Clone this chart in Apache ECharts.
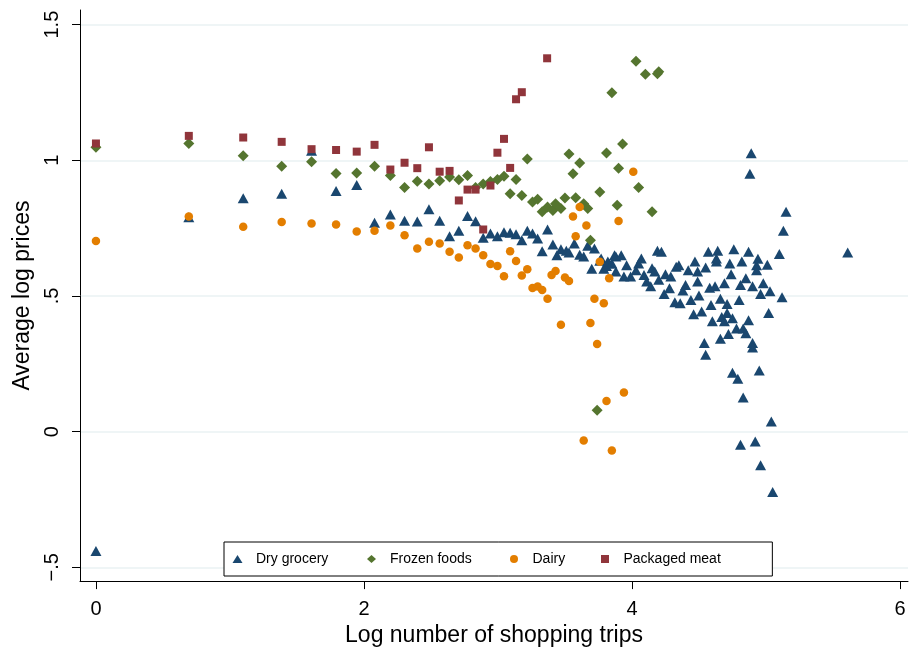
<!DOCTYPE html>
<html><head><meta charset="utf-8">
<script src="https://cdn.jsdelivr.net/npm/echarts@6/dist/echarts.min.js"></script>
<style>html,body{margin:0;padding:0;background:#fff}#c{width:910px;height:652px}</style>
</head><body><div id="c"></div>
<script>
const seriesNames = ['Dry grocery', 'Frozen foods', 'Dairy', 'Packaged meat'];

const dryX = [0,0.693,1.099,1.386,1.609,1.792,1.946,2.079,2.197,2.303,2.398,2.485,2.565,2.639,2.708,2.773,2.833,2.890,2.944,2.996,3.045,3.091,3.135,3.178,3.219,3.258,3.296,3.37,3.33,3.41,3.44,3.47,3.51,3.53,3.57,3.61,3.64,3.67,3.72,3.70,3.76,3.79,3.83,3.88,3.88,3.77,3.81,3.82,3.85,3.87,3.92,3.94,3.96,3.99,4.03,4.05,4.07,4.09,4.11,4.14,4.15,4.17,4.19,4.22,4.20,4.24,4.25,4.28,4.29,4.32,4.33,4.35,4.36,4.38,4.40,4.42,4.44,4.46,4.47,4.49,4.49,4.50,4.52,4.55,4.57,4.58,4.59,4.62,4.63,4.63,4.64,4.66,4.69,4.71,4.73,4.74,4.76,4.80,4.81,4.82,4.85,4.87,4.89,4.88,4.90,4.93,4.93,4.94,4.96,4.98,5.01,5.03,5.02,5.10,5.12,5.13,5.15,5.61,4.54,4.55,4.66,4.72,4.78,4.85,4.90,4.90,4.87,4.83,4.75,4.69,4.67,4.60,4.71,4.75,4.79,4.95,4.83,5.04,4.81,4.92,4.96,5.05];
const dryY = [-0.44,0.79,0.86,0.877,1.035,0.887,0.909,0.77,0.80,0.777,0.774,0.82,0.777,0.72,0.74,0.795,0.775,0.715,0.73,0.72,0.735,0.733,0.727,0.705,0.74,0.73,0.712,0.745,0.665,0.69,0.65,0.672,0.667,0.66,0.693,0.652,0.645,0.685,0.675,0.60,0.63,0.60,0.62,0.645,0.59,0.638,0.61,0.627,0.62,0.65,0.65,0.572,0.613,0.572,0.595,0.62,0.638,0.577,0.553,0.536,0.602,0.59,0.667,0.663,0.56,0.507,0.58,0.528,0.572,0.477,0.608,0.613,0.473,0.52,0.54,0.595,0.485,0.433,0.627,0.59,0.553,0.502,0.443,0.605,0.663,0.53,0.467,0.536,0.627,0.638,0.667,0.49,0.547,0.47,0.62,0.58,0.672,0.485,0.54,0.627,0.565,0.663,1.026,0.95,0.536,0.595,0.613,0.637,0.507,0.547,0.615,0.517,0.437,0.655,0.495,0.74,0.81,0.66,0.327,0.283,0.342,0.36,0.38,0.363,0.327,0.31,0.41,0.38,0.418,0.407,0.422,0.407,0.437,0.217,0.195,0.225,0.126,0.037,-0.048,-0.036,-0.124,-0.223];

const frozenX = [0,0.693,1.099,1.386,1.609,1.792,1.946,2.079,2.197,2.303,2.398,2.485,2.565,2.639,2.708,2.773,2.833,2.890,2.944,2.996,3.045,3.091,3.135,3.178,3.219,3.258,3.296,3.33,3.37,3.41,3.43,3.47,3.50,3.53,3.56,3.58,3.61,3.64,3.67,3.69,3.76,3.81,3.85,3.90,3.89,3.93,4.03,4.10,4.20,4.19,4.05,4.15,3.74];
const frozenY = [1.048,1.062,1.017,0.978,0.995,0.951,0.953,0.978,0.944,0.90,0.923,0.913,0.925,0.938,0.928,0.944,0.90,0.913,0.922,0.929,0.941,0.877,0.929,0.87,1.005,0.846,0.856,0.81,0.828,0.815,0.84,0.822,0.861,1.023,0.95,0.862,0.99,0.84,0.822,0.705,0.883,1.027,1.249,0.971,0.834,1.06,1.365,1.317,1.326,1.319,0.90,0.81,0.079];

const dairyX = [0,0.693,1.099,1.386,1.609,1.792,1.946,2.079,2.197,2.303,2.398,2.485,2.565,2.639,2.708,2.773,2.833,2.890,2.944,2.996,3.045,3.091,3.135,3.178,3.219,3.258,3.296,3.33,3.37,3.40,3.43,3.50,3.53,3.47,3.56,3.61,3.66,3.58,3.76,3.83,3.90,3.72,3.79,3.69,3.74,3.81,3.64,3.85,3.94,4.01];
const dairyY = [0.703,0.793,0.755,0.773,0.767,0.763,0.738,0.74,0.76,0.724,0.675,0.70,0.693,0.663,0.642,0.687,0.675,0.65,0.618,0.61,0.573,0.665,0.629,0.575,0.598,0.529,0.535,0.522,0.49,0.577,0.592,0.568,0.555,0.394,0.793,0.828,0.76,0.72,0.626,0.565,0.776,0.49,0.473,0.40,0.323,0.113,-0.033,-0.07,0.144,0.958];

const meatX = [0,0.693,1.099,1.386,1.609,1.792,1.946,2.079,2.197,2.303,2.398,2.485,2.565,2.639,2.708,2.773,2.833,2.890,2.944,2.996,3.045,3.091,3.135,3.178,3.367];
const meatY = [1.062,1.09,1.084,1.068,1.041,1.038,1.032,1.057,0.966,0.991,0.971,1.048,0.958,0.961,0.852,0.892,0.892,0.745,0.907,1.028,1.079,0.972,1.225,1.251,1.376];

const xTickValues = [0, 2, 4, 6];
const xTickLabels = ['0', '2', '4', '6'];
const yTickValues = [-0.5, 0, 0.5, 1, 1.5];
const yTickLabels = ['\u2212.5', '0', '.5', '1', '1.5'];

const FONT = '"Liberation Sans", Arial, Helvetica, sans-serif';
const zip = (xs, ys) => xs.map((x, i) => [x, ys[i]]);
const lookup = (vals, labels) => v => {
  for (let i = 0; i < vals.length; i++) if (Math.abs(vals[i] - v) < 1e-9) return labels[i];
  return '';
};

// legend icons drawn in a 27x8 frame so they keep their shape
const legendIcons = [
  'path://M0,0M27,8M8.5,8L13.5,0L18.5,8Z',
  'path://M0,0M27,8M13.5,0L18,4L13.5,8L9,4Z',
  'circle',
  'path://M0,0M27,8M9.5,0L17.5,0L17.5,8L9.5,8Z'
];
const legendLefts = [224, 358, 510, 591.5];

const legendBase = {
  top: 542, orient: 'horizontal', itemGap: 0, itemWidth: 27, itemHeight: 8,
  selectedMode: false, symbolKeepAspect: true,
  textStyle: {fontSize: 14, color: '#000', fontFamily: FONT}
};
const legends = seriesNames.map((n, i) => Object.assign({}, legendBase, {
  left: legendLefts[i],
  padding: i === 0 ? [10, 444, 10, 0] : [10, 0, 10, 0],
  backgroundColor: i === 0 ? '#fff' : 'transparent',
  borderColor: '#000', borderWidth: i === 0 ? 1 : 0,
  z: i === 0 ? 4 : 5,
  data: [{name: n, icon: legendIcons[i]}]
}));

const chart = echarts.init(document.getElementById('c'), null, {renderer: 'canvas'});
chart.setOption({
  animation: false,
  backgroundColor: '#fff',
  grid: {left: 80, right: 2, top: 10, bottom: 67, containLabel: false},
  xAxis: {
    type: 'value', min: -0.119, max: 6.06,
    name: 'Log number of shopping trips', nameLocation: 'middle', nameGap: 38,
    nameTextStyle: {fontSize: 23, color: '#000', fontFamily: FONT},
    axisLine: {show: true, onZero: false, lineStyle: {color: '#000', width: 1}},
    axisTick: {show: true, length: 8, customValues: xTickValues, lineStyle: {color: '#000', width: 1}},
    axisLabel: {customValues: xTickValues, formatter: lookup(xTickValues, xTickLabels), fontSize: 20, color: '#000', fontFamily: FONT, margin: 18},
    splitLine: {show: false}
  },
  yAxis: {
    type: 'value', min: -0.551, max: 1.554,
    name: 'Average log prices', nameLocation: 'middle', nameGap: 36, nameRotate: 90,
    nameTextStyle: {fontSize: 23, color: '#000', fontFamily: FONT},
    axisLine: {show: true, onZero: false, lineStyle: {color: '#000', width: 1}},
    axisTick: {show: true, length: 8, customValues: yTickValues, lineStyle: {color: '#000', width: 1}},
    axisLabel: {customValues: yTickValues, formatter: lookup(yTickValues, yTickLabels), rotate: 90, fontSize: 20, color: '#000', fontFamily: FONT, margin: 18},
    splitLine: {show: true, lineStyle: {color: '#eaf2f3', width: 1.5}}
  },
  legend: legends,
  series: [
    {name: seriesNames[0], type: 'scatter', symbol: 'triangle', symbolSize: [11, 10], itemStyle: {color: '#1a476f', opacity: 1}, data: zip(dryX, dryY)},
    {name: seriesNames[1], type: 'scatter', symbol: 'diamond', symbolSize: 11, itemStyle: {color: '#55752f', opacity: 1}, data: zip(frozenX, frozenY)},
    {name: seriesNames[2], type: 'scatter', symbol: 'circle', symbolSize: 8.5, itemStyle: {color: '#e37e00', opacity: 1}, data: zip(dairyX, dairyY)},
    {name: seriesNames[3], type: 'scatter', symbol: 'rect', symbolSize: 8, itemStyle: {color: '#90353b', opacity: 1}, data: zip(meatX, meatY)}
  ]
});
</script>
</body></html>
